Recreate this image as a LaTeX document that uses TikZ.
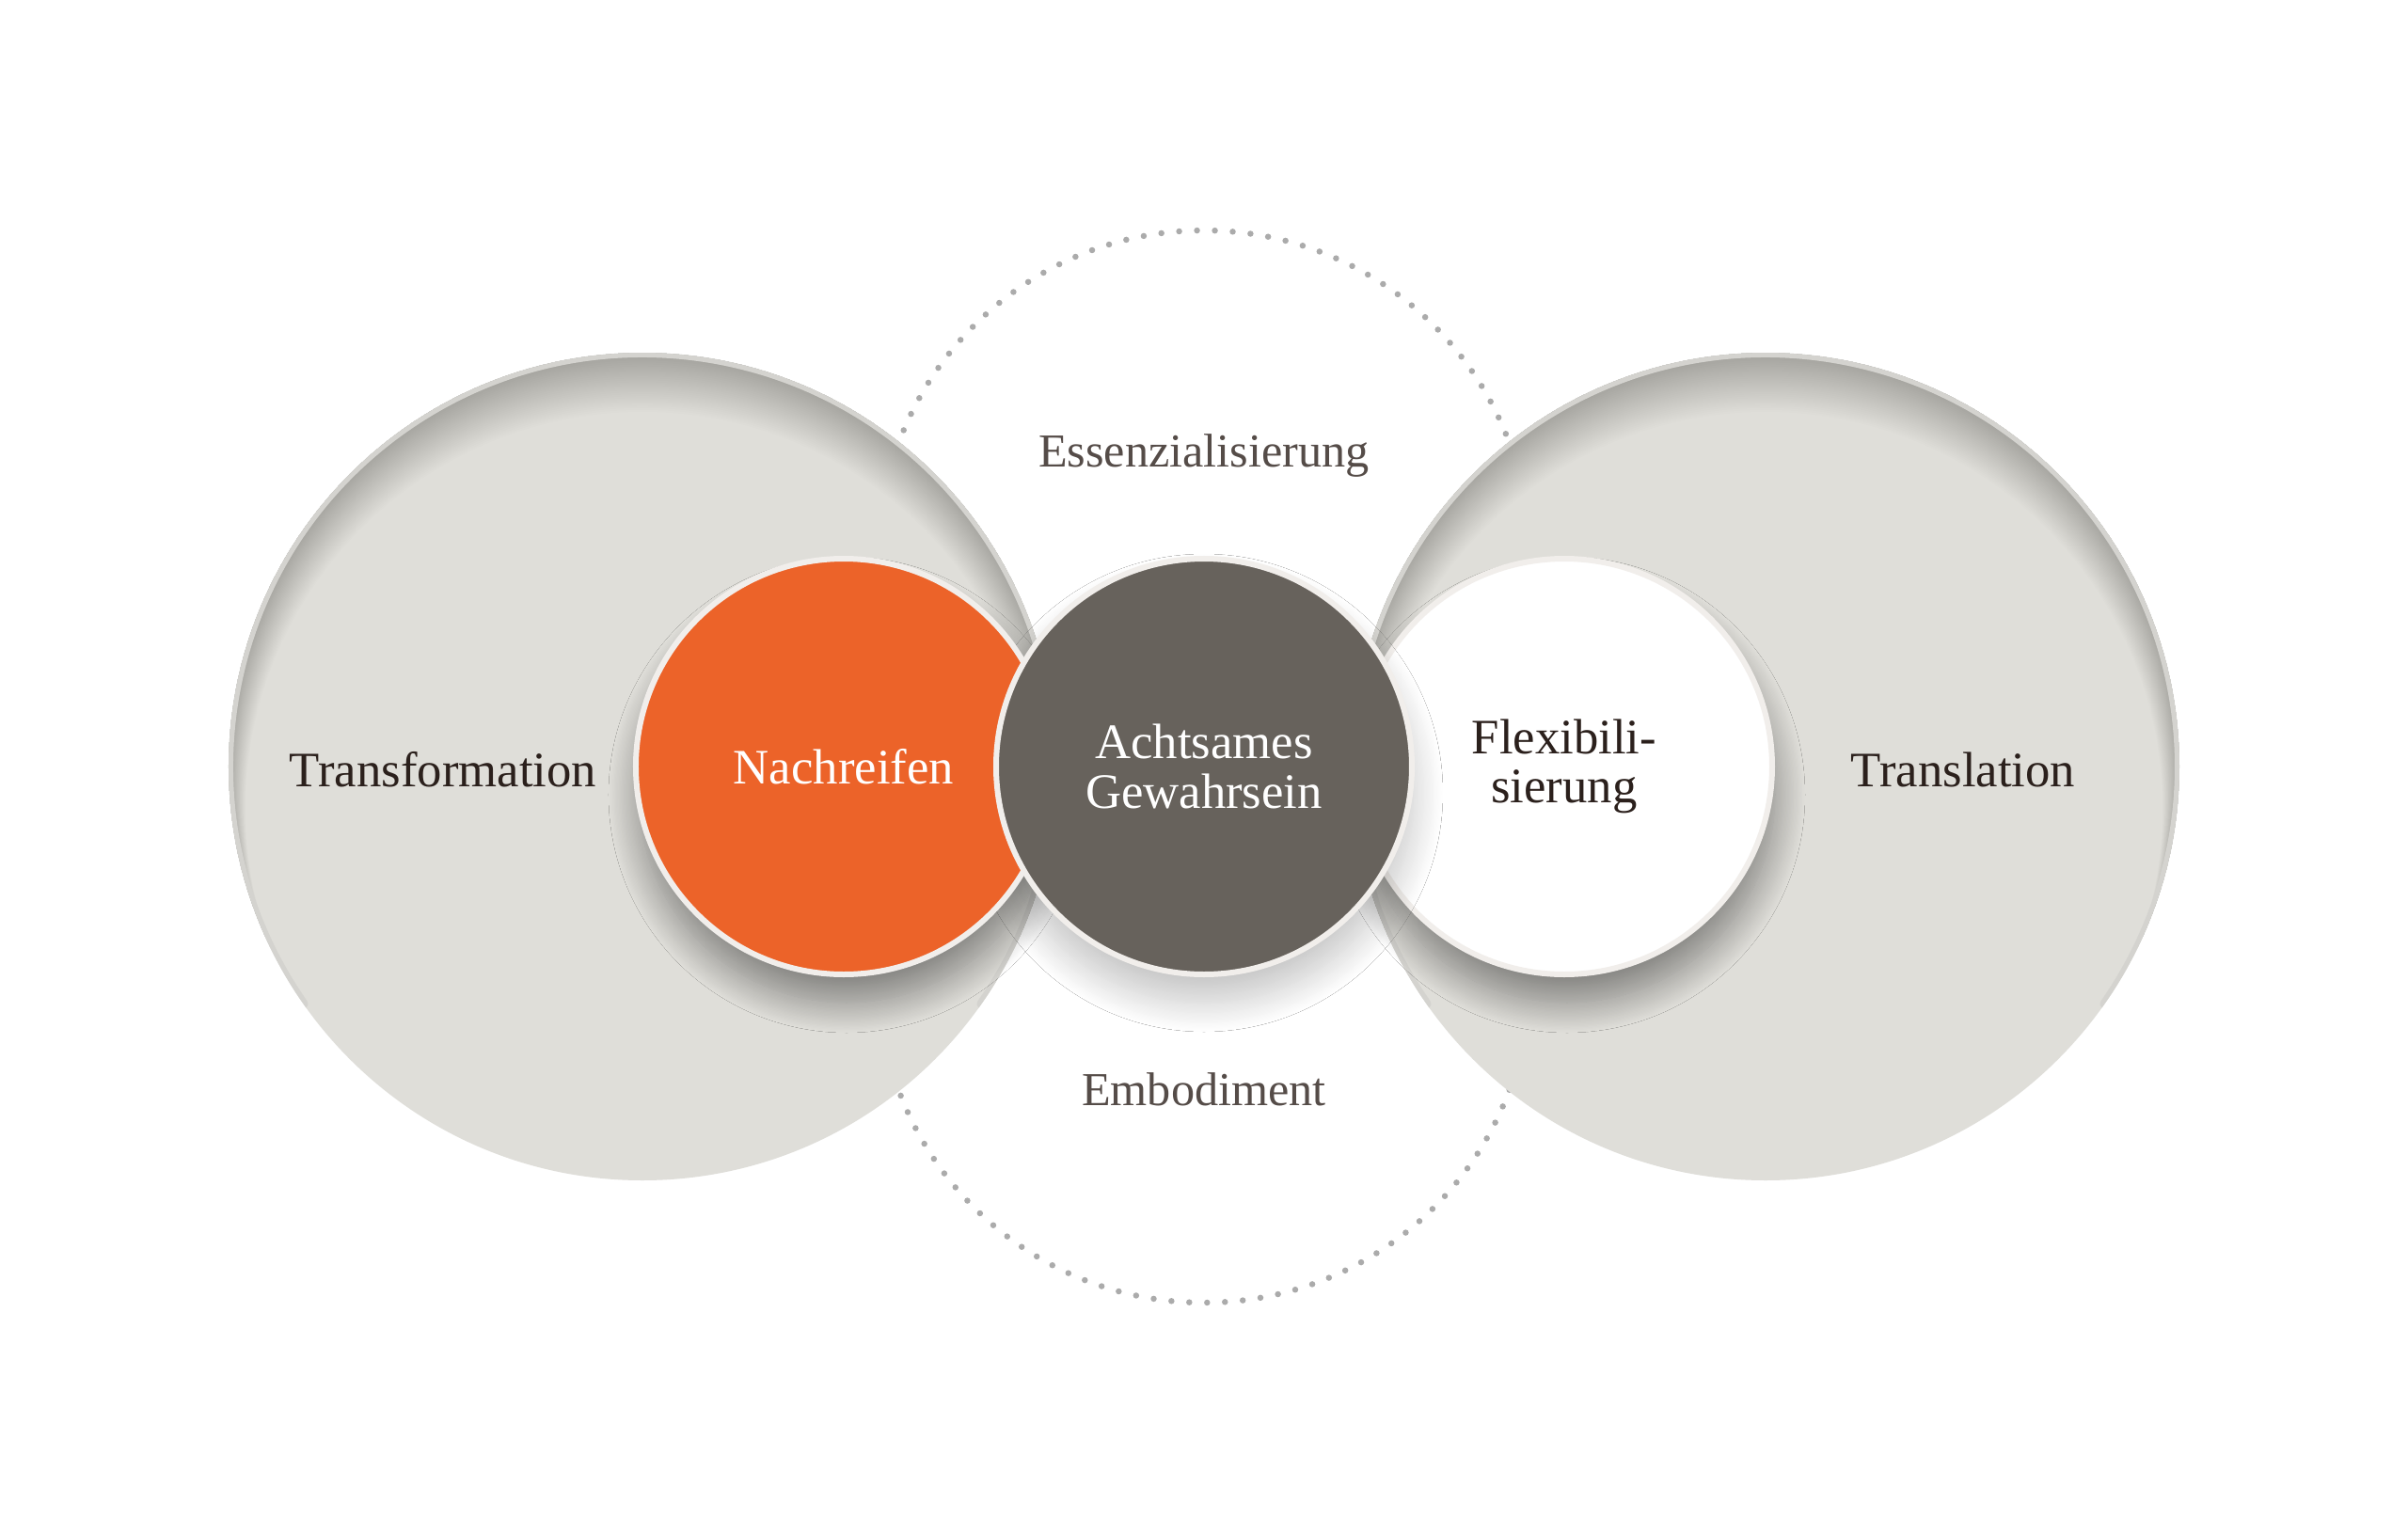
\documentclass[tikz,border=0pt]{standalone}
\usepackage{fontspec}
\setmainfont{Liberation Serif}
\usetikzlibrary{calc,shadows.blur}

\definecolor{plate}{HTML}{DFDED9}
\definecolor{platerim}{HTML}{D4D3CF}
\definecolor{orangefill}{HTML}{EC6329}
\definecolor{darkfill}{HTML}{67625C}
\definecolor{ringwhite}{HTML}{F1EEEB}
\definecolor{dotgray}{HTML}{ABABAB}
\definecolor{inktext}{HTML}{2B201C}
\definecolor{softtext}{HTML}{554C48}

\begin{document}
\begin{tikzpicture}
		\tikzstyle{every node}=[inner sep=1pt, align=center, font=\fontsize{15}{15}\selectfont]
		\tikzstyle{flatdisc}=[circle, minimum size=4.42cm, line width=0.06cm, draw=ringwhite]
		\tikzstyle{disc}=[flatdisc,
			blur shadow={shadow xshift=0.03cm, shadow yshift=-0.3cm, shadow blur radius=0.32cm, shadow blur steps=25, shadow opacity=42}]
		\tikzstyle{softshadow}=[blur shadow={shadow xshift=0cm, shadow yshift=-0.28cm, shadow blur radius=0.3cm, shadow blur steps=25, shadow opacity=22}]
		\tikzstyle{dots}=[dotgray, line width=0.065cm, line cap=round, dash pattern=on 0pt off 0.19cm]
		\fill[white] (-12.8,-8.15) rectangle (12.8,8.15);
		\useasboundingbox (-12.8,-8.15) rectangle (12.8,8.15);
		% dotted arcs behind everything
		\draw[dots] (0,2.24) circle (3.46);
		\draw[dots] (0,-2.24) circle (3.46);
		% the two big plates
		\coordinate (L) at (-5.97,0);
		\coordinate (R) at (5.97,0);
		\foreach \c in {L, R} {
			\fill[plate] (\c) circle (4.4);
			\begin{scope}
				\clip (\c) circle (4.4);
				\foreach \d in {1,...,30}
					\fill[black, opacity=0.0075, even odd rule] (\c) circle (4.7) ($(\c)+(0,{-0.015*\d})$) circle ({4.4-0.006*\d});
				\draw[platerim, line width=0.1cm, line cap=round] (\c) ++(215:4.4) arc (215:-35:4.4);
			\end{scope}
		}
		\node[text=inktext, anchor=base] (Tf) at (-8.09,-0.21) {Transformation};
		\node[text=inktext, anchor=base] (Tl) at (8.07,-0.21) {Translation};
		\node[text=softtext, anchor=base, font=\fontsize{14.3}{15}\selectfont] (Es) at (0,3.19) {Essenzialisierung};
		\node[text=softtext, anchor=base, font=\fontsize{14.3}{15}\selectfont] (Em) at (0,-3.60) {Embodiment};
		% small discs, the middle one on top
		\node[disc, fill=white, text=inktext] (F) at (3.83,0) {Flexibili-\\sierung};
		\path[softshadow] (0,0) circle (2.24);
		\node[disc, fill=orangefill, text=white] (N) at (-3.83,0) {Nachreifen};
		\node[flatdisc, fill=darkfill, text=white] (A) at (0,0) {Achtsames\\Gewahrsein};
\end{tikzpicture}
\end{document}
